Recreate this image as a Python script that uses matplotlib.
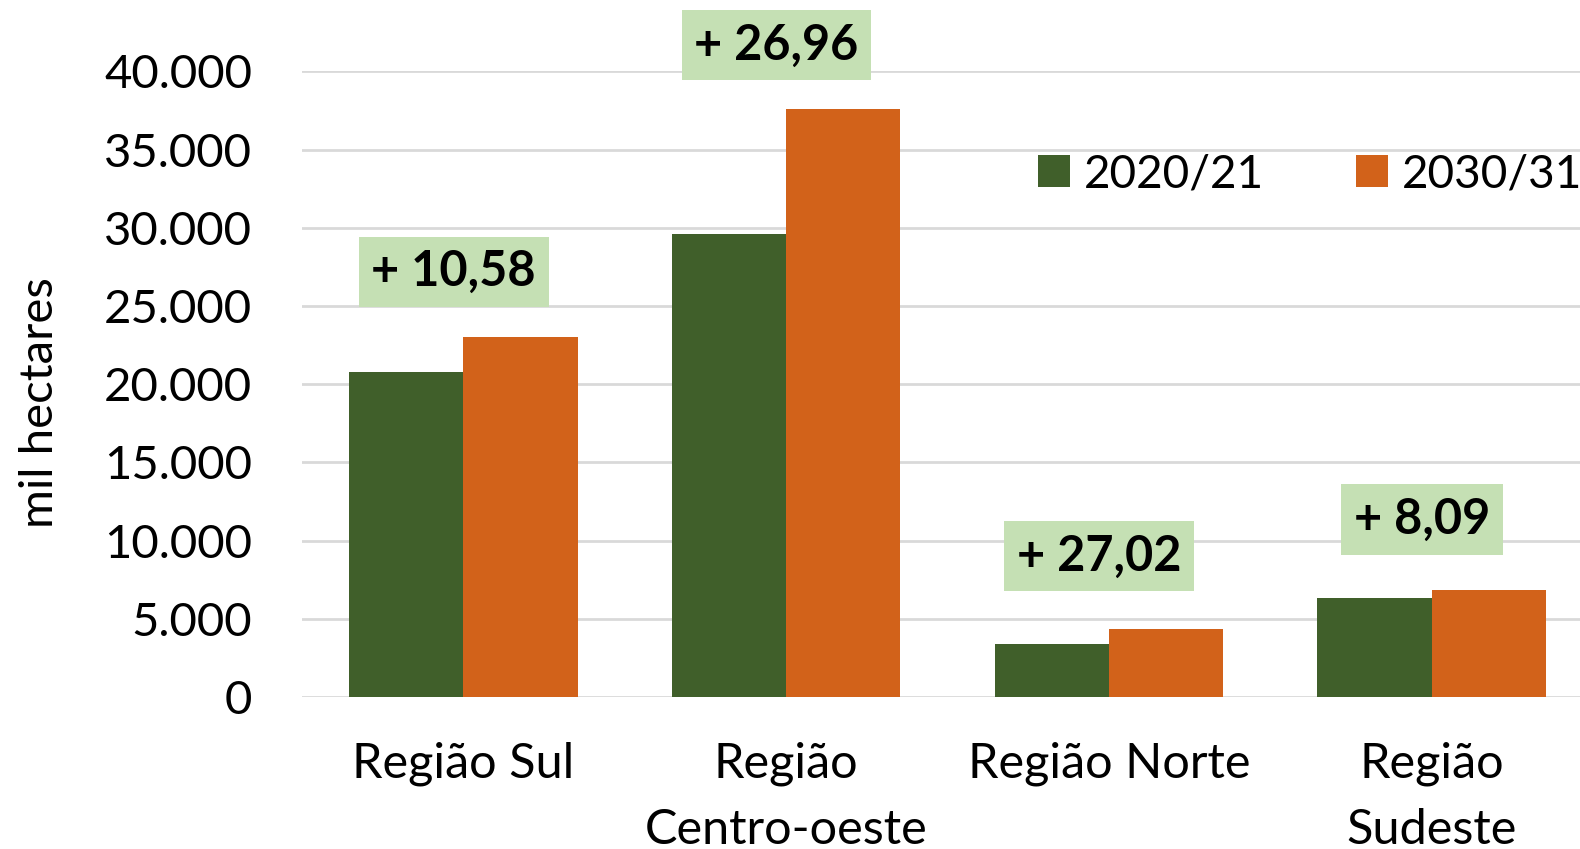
import matplotlib
matplotlib.use("Agg")
import matplotlib.pyplot as plt
import numpy as np

categories = ["Região Sul", "Região\nCentro-oeste", "Região Norte", "Região\nSudeste"]
series_names = ["2020/21", "2030/31"]
values_2020 = [20800, 29600, 3400, 6320]
values_2030 = [23000, 37580, 4320, 6830]
growth_labels = ["+ 10,58", "+ 26,96", "+ 27,02", "+ 8,09"]
growth_label_y = [27200, 41700, 9000, 11350]
yticks = [0, 5000, 10000, 15000, 20000, 25000, 30000, 35000, 40000]
ytick_labels = ["0", "5.000", "10.000", "15.000", "20.000", "25.000", "30.000", "35.000", "40.000"]

GREEN = "#405F2A"
ORANGE = "#D2621A"
BOX = "#C5E0B4"
GRID = "#D9D9D9"
FONT = "Lato"

plt.rcParams["font.family"] = [FONT, "DejaVu Sans"]

W, H = 1580, 849
fig = plt.figure(figsize=(W / 100, H / 100), dpi=100)
left_px, right_px, top_px, bottom_px = 302, 1593, 71.5, 697
ax = fig.add_axes([left_px / W, (H - bottom_px) / H,
                   (right_px - left_px) / W, (bottom_px - top_px) / H])

x = np.arange(len(categories))
bw = 0.354
ax.bar(x - bw / 2, values_2020, bw, color=GREEN, label=series_names[0], zorder=3)
ax.bar(x + bw / 2, values_2030, bw, color=ORANGE, label=series_names[1], zorder=3)

ax.set_xlim(-0.5, len(categories) - 0.5)
ax.set_ylim(0, 40000)
ax.set_yticks(yticks)
ax.set_yticklabels(ytick_labels, fontsize=34)
ax.set_xticks(x)
ax.set_xticklabels(categories, fontsize=35, linespacing=1.6)
ax.tick_params(axis="y", length=0, pad=36)
ax.tick_params(axis="x", length=0, pad=32)
for s in ax.spines.values():
    s.set_visible(False)
ax.yaxis.grid(True, color=GRID, linewidth=2, zorder=0)
ax.set_axisbelow(True)

for xi, lab, ly in zip(x, growth_labels, growth_label_y):
    ax.text(xi - 0.03, ly, lab, ha="center", va="center", fontsize=35,
            fontweight="bold", zorder=5, clip_on=False,
            bbox=dict(boxstyle="square,pad=0.26", facecolor=BOX, edgecolor="none"))

fig.text(40 / W, 1 - 403 / H, "mil hectares", rotation=90, ha="center", va="center",
         fontsize=34)

leg = ax.legend(loc="center left", bbox_to_anchor=(1038 / W, 1 - 174 / H),
                bbox_transform=fig.transFigure, ncol=2, frameon=False,
                fontsize=33, borderpad=0, borderaxespad=0,
                handlelength=0.7, handleheight=0.7, handletextpad=0.3,
                columnspacing=2.0)

fig.savefig("out.png", dpi=100)
